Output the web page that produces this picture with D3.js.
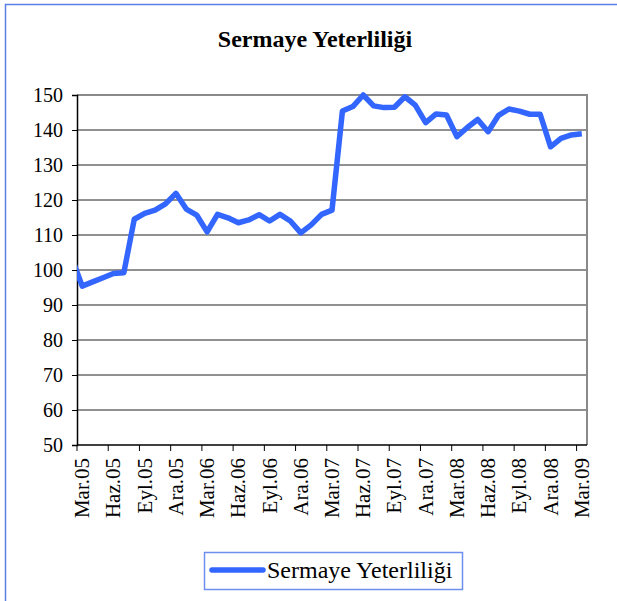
<!DOCTYPE html>
<html>
<head>
<meta charset="utf-8">
<script src="https://cdn.jsdelivr.net/npm/d3@7"></script>
<style>
  html, body { margin: 0; padding: 0; background: #ffffff; }
  svg { display: block; }
</style>
</head>
<body>
<svg id="chart" width="617" height="601"></svg>
<script>
// Monthly series, Şub.05 – Mar.09 (the February 2005 value sits left of the axis and is clipped)
const months = [
  "Şub.05",
  "Mar.05","Nis.05","May.05","Haz.05","Tem.05","Ağu.05","Eyl.05","Eki.05","Kas.05","Ara.05",
  "Oca.06","Şub.06","Mar.06","Nis.06","May.06","Haz.06","Tem.06","Ağu.06","Eyl.06","Eki.06","Kas.06","Ara.06",
  "Oca.07","Şub.07","Mar.07","Nis.07","May.07","Haz.07","Tem.07","Ağu.07","Eyl.07","Eki.07","Kas.07","Ara.07",
  "Oca.08","Şub.08","Mar.08","Nis.08","May.08","Haz.08","Tem.08","Ağu.08","Eyl.08","Eki.08","Kas.08","Ara.08",
  "Oca.09","Şub.09","Mar.09"
];
const values = [
  103.5,
  95.4, 96.6, 97.8, 99.0, 99.2, 114.5, 116.2, 117.1, 118.9, 121.9,
  117.4, 115.7, 110.9, 115.9, 114.9, 113.5, 114.3, 115.8, 114.0, 115.9, 114.0, 110.6,
  112.9, 115.9, 117.1, 145.4, 146.7, 150.0, 146.9, 146.4, 146.5, 149.5, 147.1, 142.1,
  144.6, 144.3, 138.1, 140.7, 143.0, 139.5, 144.2, 146.0, 145.4, 144.5, 144.5, 135.2,
  137.6, 138.6, 138.9
];
const tickLabels = ["Mar.05","Haz.05","Eyl.05","Ara.05","Mar.06","Haz.06","Eyl.06","Ara.06",
  "Mar.07","Haz.07","Eyl.07","Ara.07","Mar.08","Haz.08","Eyl.08","Ara.08","Mar.09"];
const yTicks = [50, 60, 70, 80, 90, 100, 110, 120, 130, 140, 150];
const title = "Sermaye Yeterliliği";
const seriesName = "Sermaye Yeterliliği";

const FONT = "Tinos, 'Liberation Serif', 'Times New Roman', Times, 'Noto Serif', 'DejaVu Serif', FreeSerif, serif";

const svg = d3.select("#chart");
const plot = { left: 77, right: 587, top: 95, bottom: 445 };

// index 0 = Mar.05; each month occupies one band, points at band centres
const firstIdx = months.indexOf("Mar.05");
const nCats = months.length - firstIdx;
const x = d3.scaleLinear().domain([-0.5, nCats - 0.5]).range([plot.left, plot.right]);
const y = d3.scaleLinear().domain([50, 150]).range([plot.bottom, plot.top]);

// outer chart frame
svg.append("rect")
  .attr("x", 5.5).attr("y", 4.5).attr("width", 700).attr("height", 700)
  .attr("fill", "#ffffff").attr("stroke", "#5b80e6").attr("stroke-width", 1.5);

// title
svg.append("text")
  .attr("x", 315).attr("y", 47)
  .attr("text-anchor", "middle")
  .style("font-family", FONT)
  .attr("font-size", 24).attr("font-weight", "bold")
  .text(title);

// horizontal gridlines
svg.append("g").selectAll("line")
  .data(yTicks.filter(v => v > 50 && v < 150))
  .join("line")
  .attr("x1", plot.left).attr("x2", plot.right)
  .attr("y1", d => y(d)).attr("y2", d => y(d))
  .attr("stroke", "#222").attr("stroke-width", 1);

// plot frame (top and right)
svg.append("path")
  .attr("d", `M${plot.left},${y(150)}H${plot.right}V${plot.bottom}`)
  .attr("fill", "none").attr("stroke", "#8a8a8a").attr("stroke-width", 2);

// y axis
const yAxis = svg.append("g")
  .attr("transform", `translate(${plot.left},0)`)
  .call(d3.axisLeft(y).tickValues(yTicks).tickSize(5).tickPadding(9).tickFormat(d3.format("d")));
yAxis.attr("font-size", 20).style("font-family", FONT);
yAxis.select(".domain").attr("stroke", "#000").attr("stroke-width", 1.5);
yAxis.selectAll(".tick line").attr("stroke", "#000");
yAxis.selectAll("text").attr("fill", "#000").attr("dy", "0.34em");

// x axis: ticks on band boundaries every third month, labels centred on the band
const tickIdx = d3.range(0, nCats, 3);
const xAxis = svg.append("g")
  .attr("transform", `translate(0,${plot.bottom})`)
  .style("font-family", FONT).attr("font-size", 21);
xAxis.append("line")
  .attr("x1", plot.left).attr("x2", plot.right)
  .attr("stroke", "#000").attr("stroke-width", 1.5);
xAxis.selectAll("line.tk")
  .data(tickIdx)
  .join("line").attr("class", "tk")
  .attr("x1", d => x(d - 0.5)).attr("x2", d => x(d - 0.5))
  .attr("y1", 0).attr("y2", 6)
  .attr("stroke", "#000");
xAxis.selectAll("text")
  .data(tickIdx)
  .join("text")
  .attr("transform", d => `translate(${x(d) + 7},13) rotate(-90)`)
  .attr("text-anchor", "end")
  .text((d, i) => tickLabels[i]);

// series line, clipped to the plot area
svg.append("clipPath").attr("id", "plotClip")
  .append("rect")
  .attr("x", plot.left).attr("y", plot.top - 10)
  .attr("width", plot.right - plot.left).attr("height", plot.bottom - plot.top + 10);

const pts = values.map((v, i) => ({ i: i - firstIdx, v }));
const line = d3.line().x(d => x(d.i)).y(d => y(d.v));
svg.append("path")
  .datum(pts)
  .attr("clip-path", "url(#plotClip)")
  .attr("d", line)
  .attr("fill", "none")
  .attr("stroke", "#3366ff")
  .attr("stroke-width", 5.5)
  .attr("stroke-linejoin", "round");

// legend
const lg = svg.append("g");
lg.append("rect")
  .attr("x", 204.5).attr("y", 552.5).attr("width", 258).attr("height", 37)
  .attr("fill", "#fff").attr("stroke", "#6f8ff0").attr("stroke-width", 1.5);
lg.append("line")
  .attr("x1", 212).attr("x2", 263).attr("y1", 570).attr("y2", 570)
  .attr("stroke", "#3366ff").attr("stroke-width", 5.5).attr("stroke-linecap", "round");
lg.append("text")
  .attr("x", 267).attr("y", 578)
  .style("font-family", FONT).attr("font-size", 24)
  .text(seriesName);
</script>
</body>
</html>
